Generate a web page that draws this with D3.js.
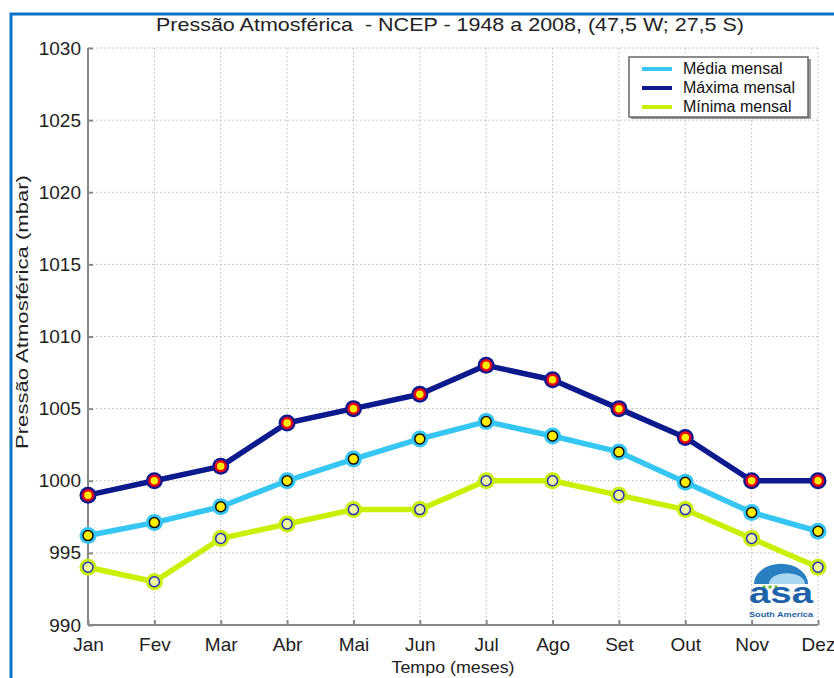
<!DOCTYPE html>
<html>
<head>
<meta charset="utf-8">
<script src="https://cdn.jsdelivr.net/npm/d3@7"></script>
<style>
  body { margin: 0; background: #fff; }
  svg { font-family: "Liberation Sans", Arial, sans-serif; }
</style>
</head>
<body>
<div id="main"></div>
<script>
"use strict";

var months = ["Jan","Fev","Mar","Abr","Mai","Jun","Jul","Ago","Set","Out","Nov","Dez"];
var media  = [996.2, 997.1, 998.2, 1000.0, 1001.5, 1002.9, 1004.1, 1003.1, 1002.0, 999.9, 997.8, 996.5];
var maxima = [999, 1000, 1001, 1004, 1005, 1006, 1008, 1007, 1005, 1003, 1000, 1000];
var minima = [994, 993, 996, 997, 998, 998, 1000, 1000, 999, 998, 996, 994];
var yTicks = [990, 995, 1000, 1005, 1010, 1015, 1020, 1025, 1030];
var seriesNames = ["Média mensal", "Máxima mensal", "Mínima mensal"];

var W = 834, H = 678;
var plotLeft = 88, plotRight = 818, plotTop = 48, plotBottom = 625;

var svg = d3.select("#main").append("svg").attr("width", W).attr("height", H);

// blue frame
svg.append("path")
    .attr("d", "M11," + H + " L11,14 L" + W + ",14")
    .attr("fill", "none").attr("stroke", "#0a72c8").attr("stroke-width", 3);

var x = d3.scalePoint().domain(months).range([plotLeft, plotRight]);
var y = d3.scaleLinear().domain([990, 1030]).range([plotBottom, plotTop]);

// grid
var grid = svg.append("g").attr("stroke", "#b8b8b8").attr("stroke-dasharray", "1.5,2.5").attr("stroke-width", 1);
months.forEach(function(m){
    grid.append("line").attr("x1", x(m)).attr("x2", x(m)).attr("y1", plotTop).attr("y2", plotBottom);
});
yTicks.forEach(function(v){
    grid.append("line").attr("x1", plotLeft).attr("x2", plotRight).attr("y1", y(v)).attr("y2", y(v));
});

// axes
var yAxis = svg.append("g").attr("transform", "translate(" + plotLeft + ",0)")
    .call(d3.axisLeft(y).tickValues(yTicks).tickSize(-5).tickPadding(7).tickFormat(d3.format("d")));
var xAxis = svg.append("g").attr("transform", "translate(0," + plotBottom + ")")
    .call(d3.axisBottom(x).tickSize(-5).tickPadding(13));
[yAxis, xAxis].forEach(function(a){
    a.select(".domain").attr("stroke", "#888").attr("stroke-width", 2);
    a.selectAll(".tick line").attr("stroke", "#888").attr("stroke-width", 2);
    a.selectAll(".tick text").attr("fill", "#222").style("font-size", "19px").style("font-family", "Liberation Sans, Arial, sans-serif");
});
xAxis.select(".domain").attr("d", "M" + plotLeft + ",0H" + plotRight);
yAxis.select(".domain").attr("d", "M0," + plotBottom + "V" + plotTop);

// title and labels
svg.append("text").attr("x", 450).attr("y", 31).attr("text-anchor", "middle")
    .style("font-size", "19px").style("white-space", "pre").attr("fill", "#222")
    .attr("textLength", 588).attr("lengthAdjust", "spacingAndGlyphs")
    .text("Pressão Atmosférica  - NCEP - 1948 a 2008, (47,5 W; 27,5 S)");
svg.append("text").attr("x", 453).attr("y", 673).attr("text-anchor", "middle")
    .style("font-size", "17px").attr("fill", "#222")
    .attr("textLength", 123).attr("lengthAdjust", "spacingAndGlyphs").text("Tempo (meses)");
svg.append("text").attr("transform", "translate(28," + 312 + ") rotate(-90)").attr("text-anchor", "middle")
    .style("font-size", "17px").attr("fill", "#222")
    .attr("textLength", 274).attr("lengthAdjust", "spacingAndGlyphs").text("Pressão Atmosférica (mbar)");

// series
var series = [
    { name: seriesNames[1], values: maxima, line: "#0c1a8e", ring: "#e8001a", face: "#ffee00", ringW: 2.5 },
    { name: seriesNames[0], values: media,  line: "#36c6f4", ring: "#111111", face: "#ffee00", ringW: 1.5 },
    { name: seriesNames[2], values: minima, line: "#c8f000", ring: "#3030c0", face: "#eaf8a0", ringW: 1.5 }
];
var line = d3.line().x(function(d, i){ return x(months[i]); }).y(function(d){ return y(d); });

// draw mínima first, then média, then máxima on top
[series[2], series[1], series[0]].forEach(function(s){
    var g = svg.append("g");
    g.append("path").attr("d", line(s.values)).attr("fill", "none")
        .attr("stroke", s.line).attr("stroke-width", 5.5).attr("stroke-linejoin", "round");
    var pts = g.selectAll("g.pt").data(s.values).enter().append("g")
        .attr("transform", function(d, i){ return "translate(" + x(months[i]) + "," + y(d) + ")"; });
    pts.append("circle").attr("r", 8.5).attr("fill", s.line);
    pts.append("circle").attr("r", 5).attr("fill", s.face).attr("stroke", s.ring).attr("stroke-width", s.ringW);
});

// legend
var lg = svg.append("g").attr("transform", "translate(629,57)");
lg.append("rect").attr("x", 2).attr("y", 2).attr("width", 180).attr("height", 60).attr("fill", "#999");
lg.append("rect").attr("width", 179).attr("height", 60).attr("fill", "#fff").attr("stroke", "#666").attr("stroke-width", 1.5);
[series[1], series[0], series[2]].forEach(function(s, i){
    var yy = 12 + i * 19;
    lg.append("line").attr("x1", 13).attr("x2", 43).attr("y1", yy).attr("y2", yy)
        .attr("stroke", s.line).attr("stroke-width", 4);
    lg.append("text").attr("x", 54).attr("y", yy + 5).style("font-size", "16px").attr("fill", "#111").text(s.name);
});

// logo
var logo = svg.append("g").attr("transform", "translate(781,584)");
logo.append("path").attr("d", d3.arc()({ innerRadius: 0, outerRadius: 27, startAngle: -Math.PI / 2, endAngle: Math.PI / 2 }))
    .attr("transform", "scale(1,0.75)").attr("fill", "#2a7fc0");
logo.append("path").attr("d", d3.arc()({ innerRadius: 0, outerRadius: 18, startAngle: -Math.PI / 2, endAngle: Math.PI / 2 }))
    .attr("transform", "translate(6,0) scale(1,0.6)").attr("fill", "#a9d6f0");
[-17, -11, -5].forEach(function(dx){
    logo.append("circle").attr("cx", dx).attr("cy", 3).attr("r", 1.8).attr("fill", "#6cbf3c");
});
logo.append("text").attr("x", 0).attr("y", 19).attr("text-anchor", "middle")
    .style("font-size", "30px").style("font-weight", "bold").attr("fill", "#1e63a8")
    .attr("textLength", 64).attr("lengthAdjust", "spacingAndGlyphs").text("asa");
logo.append("text").attr("x", 0).attr("y", 33).attr("text-anchor", "middle")
    .style("font-size", "8px").style("font-weight", "bold").attr("fill", "#1e63a8")
    .attr("textLength", 64).attr("lengthAdjust", "spacingAndGlyphs").text("South America");
</script>
</body>
</html>
